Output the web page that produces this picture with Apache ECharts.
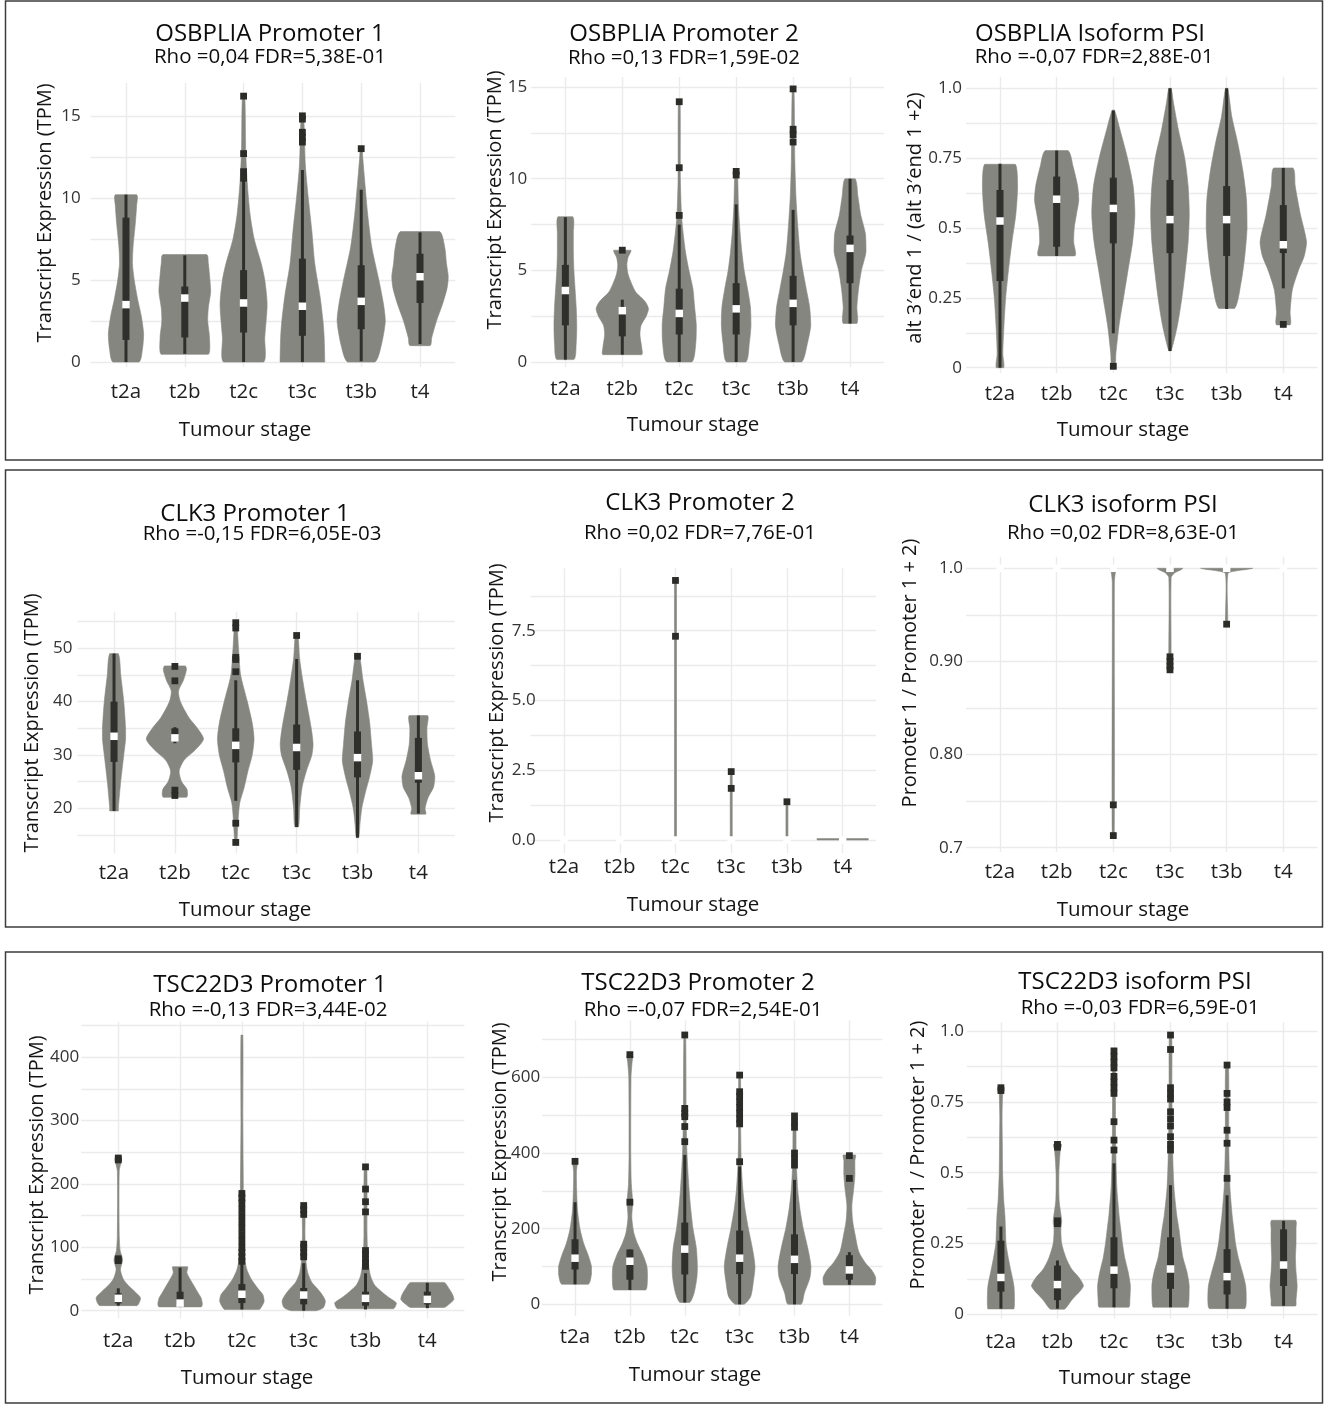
<!DOCTYPE html>
<html><head><meta charset="utf-8">
<script src="https://cdn.jsdelivr.net/npm/echarts@6/dist/echarts.min.js"></script>
<style>html,body{margin:0;padding:0;background:#fff}#c{width:1324px;height:1405px}</style>
</head><body><div id="c"></div>
<script>
// ---------- DATA ----------
const stages = ['t2a','t2b','t2c','t3c','t3b','t4'];
const xTitle = 'Tumour stage';

// Panel 1: OSBPLIA Promoter 1   violin profile = [value, half-width in category units]; box = [lo,q1,median,q3,hi]
const p1Title = 'OSBPLIA Promoter 1', p1Sub = 'Rho =0,04 FDR=5,38E-01', p1YName = 'Transcript Expression (TPM)';
const p1Ticks = [0,5,10,15], p1TickLabels = ['0','5','10','15'], p1Grid = [0,2.5,5,7.5,10,12.5,15];
const p1Violin = [
 [[0,0.22],[0.8,0.28],[1.7,0.30],[2.8,0.26],[3.8,0.20],[5,0.14],[6,0.11],[7,0.12],[8.5,0.16],[9.5,0.18],[10.2,0.18]],
 [[0.47,0.40],[1.5,0.42],[2.5,0.39],[3.3,0.40],[4.3,0.44],[5.3,0.42],[6.0,0.40],[6.55,0.37]],
 [[0,0.34],[1.5,0.36],[3.5,0.40],[5,0.36],[6,0.30],[7.5,0.18],[9,0.11],[11,0.06],[13,0.035],[16.2,0.02]],
 [[0,0.38],[1.5,0.37],[2.5,0.35],[4,0.30],[6,0.21],[8,0.16],[10,0.10],[12,0.05],[15,0.02]],
 [[0,0.23],[1,0.34],[2.5,0.41],[3.5,0.38],[5,0.30],[7,0.18],[9,0.11],[11,0.06],[12.5,0.025],[13,0.015]],
 [[1.0,0.17],[1.5,0.20],[2.5,0.28],[3.5,0.38],[4.5,0.46],[5.2,0.48],[6,0.45],[7,0.42],[7.95,0.33]]
];
const p1Box = [[0,1.35,3.5,8.8,10.2],[0.5,1.5,3.9,4.6,6.5],[0,1.8,3.6,5.6,11.3],[0,1.6,3.4,6.3,11.7],[0.05,2.0,3.7,5.9,10.5],[1.1,3.6,5.2,6.6,7.9]];
const p1Out = [[],[],[16.2,12.7,11.6,11.2],[15.0,14.8,14.0,13.7,13.4],[13.0],[]];

// Panel 2: OSBPLIA Promoter 2
const p2Title = 'OSBPLIA Promoter 2', p2Sub = 'Rho =0,13 FDR=1,59E-02', p2YName = 'Transcript Expression (TPM)';
const p2Ticks = [0,5,10,15], p2TickLabels = ['0','5','10','15'], p2Grid = [0,2.5,5,7.5,10,12.5,15];
const p2Violin = [
 [[0.13,0.15],[1,0.19],[2,0.20],[3,0.19],[4,0.17],[5,0.15],[6,0.14],[7,0.14],[7.93,0.13]],
 [[0.4,0.34],[0.8,0.34],[1.5,0.31],[2.0,0.33],[2.5,0.42],[2.9,0.46],[3.3,0.40],[3.8,0.24],[4.3,0.16],[4.8,0.10],[5.3,0.08],[5.7,0.10],[6.1,0.15]],
 [[0,0.22],[1,0.29],[2,0.30],[3,0.27],[4,0.24],[5,0.17],[6,0.11],[7,0.07],[8,0.04],[10,0.02],[14.2,0.015]],
 [[0,0.17],[1,0.23],[2,0.26],[3,0.25],[4,0.20],[5,0.14],[6,0.10],[7,0.07],[8.5,0.04],[10.4,0.02]],
 [[0,0.15],[1,0.25],[2,0.31],[3,0.29],[4,0.23],[5,0.17],[6,0.12],[7.5,0.08],[9,0.05],[11,0.03],[14.9,0.015]],
 [[2.1,0.12],[3,0.12],[4,0.15],[5,0.20],[6,0.28],[7,0.27],[8,0.19],[9,0.14],[10,0.09]]
];
const p2Box = [[0.13,2.0,3.9,5.3,7.9],[0.4,1.4,2.8,2.95,3.4],[0,1.5,2.65,4.0,7.5],[0,1.5,2.9,4.3,8.6],[0,2.0,3.2,4.7,8.3],[2.1,4.3,6.2,6.9,10.0]];
const p2Out = [[],[6.1],[14.2,10.6,8.0],[10.4,10.2],[14.9,12.7,12.4,12.0],[]];

// Panel 3: OSBPLIA Isoform PSI
const p3Title = 'OSBPLIA Isoform PSI', p3Sub = 'Rho =-0,07 FDR=2,88E-01', p3YName = 'alt 3\u2032end 1 / (alt 3\u2032end 1 +2)';
const p3Ticks = [0,0.25,0.5,0.75,1], p3TickLabels = ['0','0.25','0.5','0.75','1.0'], p3Grid = [0,0.125,0.25,0.375,0.5,0.625,0.75,0.875,1];
const p3Violin = [
 [[0,0.065],[0.05,0.05],[0.15,0.07],[0.25,0.10],[0.35,0.15],[0.45,0.21],[0.55,0.28],[0.65,0.31],[0.728,0.27]],
 [[0.40,0.32],[0.45,0.30],[0.5,0.31],[0.55,0.35],[0.6,0.39],[0.65,0.37],[0.72,0.29],[0.777,0.20]],
 [[0.005,0.03],[0.05,0.045],[0.15,0.10],[0.25,0.18],[0.35,0.26],[0.45,0.34],[0.55,0.38],[0.65,0.35],[0.75,0.25],[0.85,0.12],[0.922,0.02]],
 [[0.06,0.02],[0.15,0.13],[0.25,0.21],[0.35,0.27],[0.45,0.32],[0.55,0.34],[0.65,0.32],[0.75,0.26],[0.85,0.15],[0.95,0.06],[1.0,0.02]],
 [[0.212,0.14],[0.3,0.25],[0.4,0.32],[0.5,0.36],[0.6,0.35],[0.7,0.29],[0.8,0.20],[0.9,0.09],[1.0,0.02]],
 [[0.153,0.12],[0.2,0.12],[0.28,0.16],[0.35,0.27],[0.4,0.37],[0.45,0.41],[0.55,0.30],[0.65,0.21],[0.715,0.17]]
];
const p3Box = [[0,0.31,0.525,0.636,0.73],[0.4,0.433,0.603,0.684,0.777],[0.123,0.445,0.57,0.68,0.92],[0.06,0.41,0.53,0.672,1.0],[0.21,0.40,0.53,0.65,1.0],[0.284,0.41,0.44,0.582,0.715]];
const p3Out = [[],[],[0.005],[],[],[0.155]];

// Panel 4: CLK3 Promoter 1
const p4Title = 'CLK3 Promoter 1', p4Sub = 'Rho =-0,15 FDR=6,05E-03', p4YName = 'Transcript Expression (TPM)';
const p4Ticks = [20,30,40,50], p4TickLabels = ['20','30','40','50'], p4Grid = [15,20,25,30,35,40,45,50,55];
const p4Violin = [
 [[19.5,0.07],[20,0.07],[25,0.11],[30,0.16],[33,0.19],[35,0.19],[40,0.16],[45,0.11],[49,0.07]],
 [[22.06,0.19],[23.5,0.20],[25,0.11],[27,0.07],[29,0.15],[31,0.34],[33,0.47],[35,0.37],[37,0.23],[40,0.09],[42,0.06],[44,0.14],[46,0.19],[46.7,0.17]],
 [[13.5,0.015],[15,0.025],[18,0.04],[21,0.065],[24,0.14],[27,0.20],[30,0.27],[33,0.30],[36,0.27],[40,0.19],[45,0.08],[50,0.045],[55,0.015]],
 [[16.5,0.03],[20,0.05],[24,0.09],[27,0.16],[30,0.25],[32,0.27],[35,0.24],[40,0.16],[44,0.10],[48,0.05],[52.5,0.02]],
 [[14.5,0.02],[17,0.04],[20,0.07],[23,0.13],[26,0.20],[29,0.25],[32,0.23],[36,0.20],[40,0.15],[44,0.09],[48.6,0.03]],
 [[18.9,0.12],[20,0.11],[22,0.16],[24,0.25],[26,0.27],[29,0.20],[32,0.15],[35,0.14],[37.4,0.15]]
];
const p4Box = [[19.5,28.7,33.5,40,49],[32.2,32.5,33.2,35.0,35.2],[21.4,28.6,31.8,35,44],[16.5,27.2,31.4,35.7,48],[14.5,25.8,29.5,34.4,44],[19,24.8,26.1,33.2,37.4]];
const p4Out = [[],[46.6,43.9,23.4,22.4],[54.8,53.8,48.3,47.9,45.6,17.2,13.6],[52.4],[48.5],[]];

// Panel 5: CLK3 Promoter 2
const p5Title = 'CLK3 Promoter 2', p5Sub = 'Rho =0,02 FDR=7,76E-01', p5YName = 'Transcript Expression (TPM)';
const p5Ticks = [0,2.5,5,7.5], p5TickLabels = ['0.0','2.5','5.0','7.5'], p5Grid = [0,1.25,2.5,3.75,5,6.25,7.5,8.75];
const p5Violin = [[],[],[[0,0.018],[9.3,0.018]],[[0,0.018],[2.45,0.018]],[[0,0.018],[1.37,0.018]],[[0,0.46],[0.05,0.46]]];
const p5Box = [[0,0,0,0,0],[0,0,0,0,0],[0,0,0,0,0],[0,0,0,0,0],[0,0,0,0,0],[0,0,0,0,0]];
const p5Out = [[],[],[9.3,7.3],[2.45,1.85],[1.37],[]];

// Panel 6: CLK3 isoform PSI
const p6Title = 'CLK3 isoform PSI', p6Sub = 'Rho =0,02 FDR=8,63E-01', p6YName = 'Promoter 1 / Promoter 1 + 2)';
const p6Ticks = [0.7,0.8,0.9,1.0], p6TickLabels = ['0.7','0.80','0.90','1.0'], p6Grid = [0.7,0.75,0.8,0.85,0.9,0.95,1.0];
const p6Violin = [[],[],
 [[0.713,0.018],[0.985,0.018],[0.995,0.035],[1.0,0.06]],
 [[0.892,0.018],[0.99,0.02],[0.995,0.08],[0.998,0.18],[1.0,0.23]],
 [[0.94,0.018],[0.994,0.02],[0.997,0.15],[0.999,0.38],[1.0,0.46]],
 []];
const p6Box = [[1,1,1,1,1],[1,1,1,1,1],[1,1,1,1,1],[1,1,1,1,1],[1,1,1,1,1],[1,1,1,1,1]];
const p6Out = [[],[],[0.746,0.713],[0.905,0.9,0.895,0.891],[0.94],[]];

// Panel 7: TSC22D3 Promoter 1
const p7Title = 'TSC22D3 Promoter 1', p7Sub = 'Rho =-0,13 FDR=3,44E-02', p7YName = 'Transcript Expression (TPM)';
const p7Ticks = [0,100,200,300,400], p7TickLabels = ['0','100','200','300','400'], p7Grid = [0,50,100,150,200,250,300,350,400,450];
const p7Violin = [
 [[8,0.30],[20,0.36],[30,0.27],[40,0.16],[50,0.08],[65,0.035],[80,0.07],[95,0.03],[120,0.015],[220,0.015],[241,0.05]],
 [[6,0.34],[10,0.36],[20,0.34],[30,0.28],[40,0.22],[50,0.16],[60,0.11],[69.5,0.12]],
 [[2,0.28],[5,0.31],[15,0.36],[25,0.34],[35,0.26],[50,0.15],[65,0.08],[85,0.04],[120,0.03],[180,0.025],[300,0.015],[435,0.015]],
 [[0,0.2],[5,0.32],[15,0.35],[25,0.30],[35,0.22],[45,0.13],[60,0.065],[80,0.035],[120,0.02],[167,0.02]],
 [[3,0.45],[12,0.50],[20,0.39],[30,0.26],[40,0.15],[55,0.08],[80,0.04],[120,0.025],[228,0.02]],
 [[5,0.27],[10,0.35],[18,0.43],[25,0.41],[35,0.35],[44.7,0.27]]
];
const p7Box = [[8,11.6,19.5,27.4,35.3],[6,10,12,30,68],[2,12,26,42,75],[0,10,24.7,35.8,75],[2,7.9,19.5,30,59],[4,10,17.9,30,44]];
const p7Out = [[241,238,82,79],[],[185,178,170,160,150,140,130,120,110,100,92,85,78],[166,160,152,105,100,92,85],[227,192,172,156,95,90,82,75,70],[]];

// Panel 8: TSC22D3 Promoter 2
const p8Title = 'TSC22D3 Promoter 2', p8Sub = 'Rho =-0,07 FDR=2,54E-01', p8YName = 'Transcript Expression (TPM)';
const p8Ticks = [0,200,400,600], p8TickLabels = ['0','200','400','600'], p8Grid = [0,100,200,300,400,500,600,700];
const p8Violin = [
 [[53,0.24],[80,0.30],[100,0.30],[130,0.24],[160,0.16],[200,0.09],[250,0.045],[300,0.03],[350,0.025],[370,0.04],[380,0.04]],
 [[38,0.29],[70,0.32],[100,0.31],[130,0.24],[160,0.14],[190,0.07],[230,0.035],[270,0.05],[320,0.025],[400,0.015],[600,0.02],[640,0.04],[658,0.05]],
 [[5,0.09],[30,0.17],[70,0.22],[100,0.23],[150,0.21],[200,0.15],[250,0.11],[300,0.08],[400,0.04],[500,0.025],[712,0.015]],
 [[0,0.08],[20,0.20],[60,0.25],[100,0.28],[150,0.23],[200,0.16],[250,0.10],[300,0.06],[370,0.03],[450,0.02],[606,0.015]],
 [[0,0.12],[30,0.18],[70,0.28],[100,0.30],[150,0.24],[200,0.16],[250,0.10],[300,0.06],[350,0.04],[400,0.03],[498,0.02]],
 [[51,0.46],[70,0.48],[90,0.41],[110,0.29],[140,0.17],[180,0.11],[220,0.06],[260,0.045],[300,0.075],[340,0.10],[380,0.10],[395,0.11]]
];
const p8Box = [[53,92,122,172,270],[38,65,114,145,145],[5,79,146,216,395],[0,80,122,195,364],[0,80,119,185,329],[52,65,91,130,138]];
const p8Out = [[378],[660,270],[712,518,505,496,470,430],[606,562,550,535,520,505,490,477,377],[498,482,468,400,385,368],[393,333]];

// Panel 9: TSC22D3 isoform PSI
const p9Title = 'TSC22D3 isoform PSI', p9Sub = 'Rho =-0,03 FDR=6,59E-01', p9YName = 'Promoter 1 / Promoter 1 + 2)';
const p9Ticks = [0,0.25,0.5,0.75,1], p9TickLabels = ['0','0.25','0.5','0.75','1.0'], p9Grid = [0,0.125,0.25,0.375,0.5,0.625,0.75,0.875,1];
const p9Violin = [
 [[0.019,0.23],[0.05,0.24],[0.1,0.23],[0.15,0.18],[0.2,0.13],[0.25,0.09],[0.3,0.08],[0.35,0.07],[0.4,0.05],[0.5,0.03],[0.6,0.025],[0.7,0.02],[0.78,0.03],[0.8,0.04]],
 [[0.018,0.12],[0.05,0.25],[0.1,0.46],[0.13,0.38],[0.16,0.25],[0.2,0.15],[0.25,0.075],[0.3,0.06],[0.33,0.075],[0.4,0.03],[0.5,0.025],[0.58,0.05],[0.6,0.07]],
 [[0.025,0.26],[0.05,0.28],[0.1,0.29],[0.15,0.25],[0.2,0.19],[0.25,0.15],[0.3,0.12],[0.35,0.09],[0.45,0.05],[0.6,0.03],[0.8,0.025],[0.93,0.025]],
 [[0.025,0.31],[0.1,0.33],[0.15,0.29],[0.2,0.22],[0.25,0.18],[0.3,0.15],[0.35,0.11],[0.45,0.06],[0.6,0.035],[0.8,0.025],[0.986,0.02]],
 [[0.02,0.31],[0.05,0.34],[0.1,0.33],[0.15,0.27],[0.2,0.20],[0.25,0.15],[0.3,0.12],[0.35,0.09],[0.45,0.05],[0.6,0.03],[0.88,0.025]],
 [[0.029,0.21],[0.05,0.22],[0.1,0.24],[0.15,0.22],[0.2,0.21],[0.25,0.22],[0.3,0.22],[0.332,0.21]]
];
const p9Box = [[0.02,0.08,0.13,0.26,0.31],[0.02,0.05,0.105,0.172,0.19],[0.025,0.092,0.156,0.272,0.533],[0.025,0.09,0.16,0.272,0.456],[0.02,0.07,0.133,0.23,0.42],[0.03,0.10,0.174,0.30,0.33]];
const p9Out = [[0.80,0.79],[0.60,0.59,0.33,0.32],[0.93,0.91,0.89,0.87,0.84,0.82,0.80,0.78,0.68,0.615,0.58],[0.986,0.935,0.80,0.78,0.76,0.715,0.69,0.665,0.627,0.60,0.58],[0.88,0.78,0.75,0.73,0.65,0.604,0.48],[]];

// ---------- LAYOUT (positions / styles) ----------
const layout = [
 {l:90.7, t:83,     w:364.6, h:284,   ymin:-0.3,   ymax:17.0,   tx:270, ty:34, sx:270, sy:57, yx:45, yy:213, xx:245, xy:430, ylm:10, xlm:15},
 {l:531.2,t:77,     w:353,   h:290,   ymin:-0.273, ymax:15.55,  tx:684, ty:34, sx:684, sy:58, yx:495,yy:200, xx:693, xy:425, ylm:4,  xlm:12},
 {l:966,  t:76.7,   w:351.3, h:296.3, ymin:-0.019, ymax:1.0415, tx:1090,ty:34, sx:1094,sy:57, yx:915,yy:218, xx:1123,xy:430, ylm:4,  xlm:11},
 {l:77.5, t:611.7,  w:377.4, h:241.6, ymin:11.56,  ymax:56.86,  tx:255, ty:514,sx:262, sy:534,yx:32, yy:723, xx:245, xy:910, ylm:5,  xlm:9},
 {l:530.6,t:568.3,  w:345.5, h:284.7, ymin:-0.466, ymax:9.735,  tx:700, ty:503,sx:700, sy:533,yx:497,yy:693, xx:693, xy:905, ylm:-5, xlm:4},
 {l:966,  t:556.7,  w:351.3, h:295.3, ymin:0.69538,ymax:1.01246,tx:1123,ty:505,sx:1123,sy:533,yx:910,yy:673, xx:1123,xy:910, ylm:3,  xlm:10},
 {l:81.2, t:1021.8, w:383.2, h:296.5, ymin:-12,    ymax:456,    tx:270, ty:985,sx:268, sy:1010,yx:37, yy:1165,xx:247, xy:1378,ylm:2,  xlm:12},
 {l:542.1,t:1020.6, w:340.2, h:295.1, ymin:-30,    ymax:750,    tx:698, ty:983,sx:703, sy:1010,yx:500,yy:1152,xx:695, xy:1375,ylm:2,  xlm:11},
 {l:967,  t:1022.3, w:350.5, h:296.25,ymin:-0.015, ymax:1.031,  tx:1135,ty:982,sx:1140,sy:1008,yx:918,yy:1155,xx:1125,xy:1378,ylm:3,  xlm:13}
];

const panels = [
 {title:p1Title,sub:p1Sub,yName:p1YName,ticks:p1Ticks,tickLabels:p1TickLabels,grid:p1Grid,violin:p1Violin,box:p1Box,out:p1Out},
 {title:p2Title,sub:p2Sub,yName:p2YName,ticks:p2Ticks,tickLabels:p2TickLabels,grid:p2Grid,violin:p2Violin,box:p2Box,out:p2Out},
 {title:p3Title,sub:p3Sub,yName:p3YName,ticks:p3Ticks,tickLabels:p3TickLabels,grid:p3Grid,violin:p3Violin,box:p3Box,out:p3Out},
 {title:p4Title,sub:p4Sub,yName:p4YName,ticks:p4Ticks,tickLabels:p4TickLabels,grid:p4Grid,violin:p4Violin,box:p4Box,out:p4Out},
 {title:p5Title,sub:p5Sub,yName:p5YName,ticks:p5Ticks,tickLabels:p5TickLabels,grid:p5Grid,violin:p5Violin,box:p5Box,out:p5Out},
 {title:p6Title,sub:p6Sub,yName:p6YName,ticks:p6Ticks,tickLabels:p6TickLabels,grid:p6Grid,violin:p6Violin,box:p6Box,out:p6Out},
 {title:p7Title,sub:p7Sub,yName:p7YName,ticks:p7Ticks,tickLabels:p7TickLabels,grid:p7Grid,violin:p7Violin,box:p7Box,out:p7Out},
 {title:p8Title,sub:p8Sub,yName:p8YName,ticks:p8Ticks,tickLabels:p8TickLabels,grid:p8Grid,violin:p8Violin,box:p8Box,out:p8Out},
 {title:p9Title,sub:p9Sub,yName:p9YName,ticks:p9Ticks,tickLabels:p9TickLabels,grid:p9Grid,violin:p9Violin,box:p9Box,out:p9Out}
];

const FONT = '"Open Sans", "Noto Sans", sans-serif';
const VIOLIN = '#868681', DARK = '#2f2f2b', GRIDC = '#ebebeb';
const catIdx = stages.map((s, i) => i);

function violinRenderer(profiles) {
  return function (params, api) {
    const i = api.value(0);
    const prof = profiles[params.dataIndex];
    if (!prof || !prof.length) return null;
    const pts = [];
    prof.forEach(p => pts.push(api.coord([i + p[1], p[0]])));
    for (let k = prof.length - 1; k >= 0; k--) pts.push(api.coord([i - prof[k][1], prof[k][0]]));
    let x0 = Infinity, y0 = Infinity, x1 = -Infinity, y1 = -Infinity;
    pts.forEach(q => { x0 = Math.min(x0, q[0]); y0 = Math.min(y0, q[1]); x1 = Math.max(x1, q[0]); y1 = Math.max(y1, q[1]); });
    return {type: 'polygon', shape: {points: pts, smooth: 0.25, smoothConstraint: [[x0, y0], [x1, y1]]},
            style: {fill: VIOLIN, stroke: VIOLIN, lineWidth: 0.6}};
  };
}
function boxRenderer(params, api) {
  const i = api.value(0);
  const lo = api.coord([i, api.value(1)]), q1 = api.coord([i, api.value(2)]);
  const q3 = api.coord([i, api.value(4)]), hi = api.coord([i, api.value(5)]);
  const ch = [];
  if (lo[1] - hi[1] > 0.5) ch.push({type: 'line', shape: {x1: lo[0], y1: lo[1], x2: hi[0], y2: hi[1]}, style: {stroke: DARK, lineWidth: 3}});
  if (q1[1] - q3[1] > 0.5) ch.push({type: 'rect', shape: {x: q1[0] - 3.5, y: q3[1], width: 7, height: q1[1] - q3[1]}, style: {fill: DARK}});
  return {type: 'group', children: ch};
}

const grids = [], xAxes = [], yAxes = [], series = [], graphics = [];
panels.forEach((p, k) => {
  const L = layout[k];
  grids.push({left: L.l, top: L.t, width: L.w, height: L.h, containLabel: false, outerBoundsMode: 'none'});
  xAxes.push({gridIndex: k, type: 'value', min: -0.6, max: 5.6,
    axisLine: {show: false}, axisTick: {show: false, customValues: catIdx},
    axisLabel: {customValues: catIdx, formatter: v => stages[Math.round(v)], fontSize: 20.5, color: '#1f1f1f', fontFamily: FONT, margin: L.xlm},
    splitLine: {show: true, lineStyle: {color: GRIDC, width: 1.4}}});
  yAxes.push({gridIndex: k, type: 'value', min: L.ymin, max: L.ymax,
    axisLine: {show: false}, axisTick: {show: false, customValues: p.grid},
    axisLabel: {customValues: p.ticks, fontSize: 17, color: '#333333', fontFamily: FONT, margin: L.ylm,
      formatter: v => { const j = p.ticks.findIndex(t => Math.abs(t - v) < 1e-9); return j >= 0 ? p.tickLabels[j] : ''; }},
    splitLine: {show: true, lineStyle: {color: GRIDC, width: 1.4}}});
  series.push({type: 'custom', xAxisIndex: k, yAxisIndex: k, silent: true, z: 2,
    data: p.box.map((b, i) => [i, b[2]]), renderItem: violinRenderer(p.violin)});
  series.push({type: 'custom', xAxisIndex: k, yAxisIndex: k, silent: true, z: 3,
    data: p.box.map((b, i) => [i].concat(b)), renderItem: boxRenderer});
  const outs = [];
  p.out.forEach((arr, i) => arr.forEach(v => outs.push([i, v])));
  series.push({type: 'scatter', xAxisIndex: k, yAxisIndex: k, silent: true, z: 4,
    symbol: 'rect', symbolSize: 6.8, itemStyle: {color: '#2b2b28', opacity: 1}, data: outs});
  series.push({type: 'scatter', xAxisIndex: k, yAxisIndex: k, silent: true, z: 5,
    symbol: 'rect', symbolSize: 7.5, itemStyle: {color: '#ffffff', opacity: 1}, data: p.box.map((b, i) => [i, b[2]])});

  graphics.push({type: 'text', x: L.tx, y: L.ty, style: {text: p.title, fontSize: 24, fontFamily: FONT, fill: '#0d0d0d', align: 'center', verticalAlign: 'middle'}});
  graphics.push({type: 'text', x: L.sx, y: L.sy, style: {text: p.sub, fontSize: 20.5, fontFamily: FONT, fill: '#0d0d0d', align: 'center', verticalAlign: 'middle'}});
  graphics.push({type: 'text', x: L.yx, y: L.yy, rotation: Math.PI / 2, style: {text: p.yName, fontSize: 20, fontFamily: FONT, fill: '#141414', align: 'center', verticalAlign: 'middle'}});
  graphics.push({type: 'text', x: L.xx, y: L.xy, style: {text: xTitle, fontSize: 20.5, fontFamily: FONT, fill: '#141414', align: 'center', verticalAlign: 'middle'}});
});
// row frames
[[5.5, 1, 1317, 459], [5.5, 470, 1317, 457], [5.5, 952, 1317, 451]].forEach(r => {
  graphics.push({type: 'rect', shape: {x: r[0], y: r[1], width: r[2], height: r[3]}, style: {fill: 'none', stroke: '#3c3c3c', lineWidth: 1.5}, z: 10});
});

const chart = echarts.init(document.getElementById('c'), null, {renderer: 'canvas', width: 1324, height: 1405});
chart.setOption({animation: false, backgroundColor: '#ffffff', grid: grids, xAxis: xAxes, yAxis: yAxes, series: series, graphic: graphics});
</script></body></html>
